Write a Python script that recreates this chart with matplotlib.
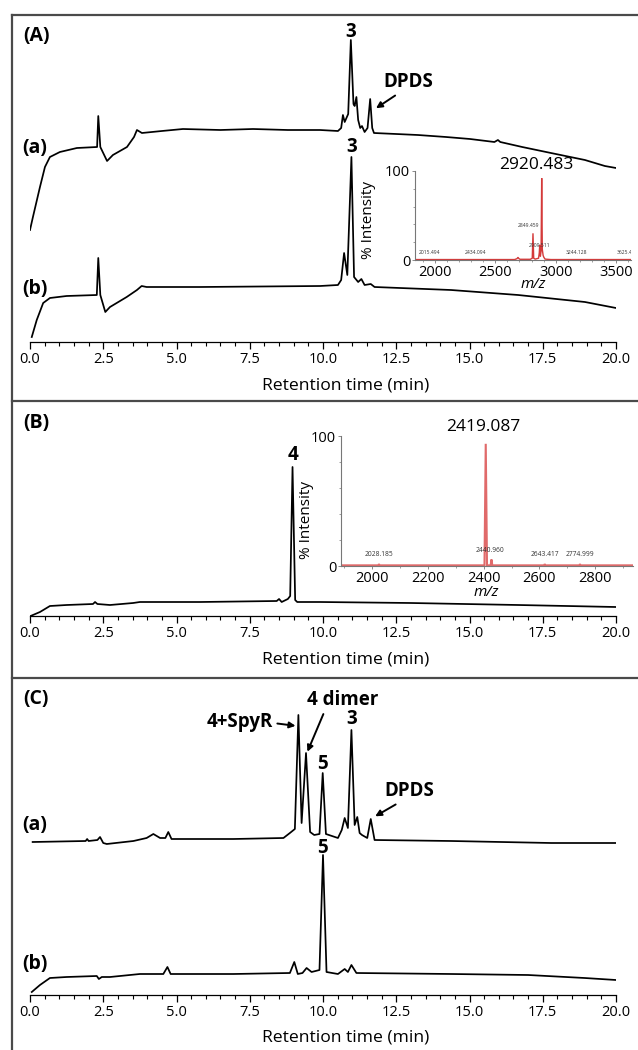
"""HPLC traces with MALDI insets, three stacked panels."""

import matplotlib
matplotlib.use("Agg")
import matplotlib.pyplot as plt
from matplotlib.lines import Line2D
from matplotlib.ticker import MultipleLocator, FormatStrFormatter

plt.rcParams["font.family"] = ["Open Sans", "DejaVu Sans"]

# ---- chromatogram data (time in min, signal in a.u.) ----
A_A_T = [0.0, 0.10, 0.34, 0.51, 0.68, 1.02, 1.60, 2.29, 2.33, 2.40, 2.63, 2.83, 3.31, 3.55, 3.65,
         3.82, 4.50, 5.22, 6.50, 7.61, 8.80, 9.90, 10.51, 10.62, 10.68, 10.74, 10.86, 10.95, 11.04,
         11.08, 11.14, 11.20, 11.27, 11.33, 11.42, 11.52, 11.61, 11.68, 11.74, 12.50, 13.24, 14.20,
         15.02, 15.85, 15.97, 16.05, 16.80, 17.78, 18.94, 19.62, 20.0]
A_A_S = [112, 125, 155, 175, 185, 190, 194, 195, 226, 195, 181, 187, 195, 205, 212,
         209, 211, 213, 212, 213, 212, 212, 211, 214, 227, 220, 228, 302, 238,
         236, 245, 222, 214, 216, 210, 214, 243, 214, 209, 208, 207, 205,
         203, 200, 202, 200, 195, 189, 182, 176, 174]

A_B_T = [0.06, 0.23, 0.45, 0.68, 1.25, 2.28, 2.33, 2.40, 2.57, 2.73, 3.30, 3.65, 3.81, 3.98, 5.80,
         9.90, 10.51, 10.62, 10.72, 10.83, 10.97, 11.06, 11.20, 11.31, 11.42, 11.63, 11.76, 14.37,
         16.66, 18.94, 20.0]
A_B_S = [5, 22, 39, 44, 46, 47, 84, 47, 30, 35, 45, 52, 56, 55, 55,
         56, 57, 62, 89, 67, 185, 65, 60, 63, 57, 58, 55, 52,
         47, 40, 34]

B_T = [0.02, 0.34, 0.68, 1.25, 2.15, 2.22, 2.30, 2.73, 3.52, 3.75, 5.80, 8.42, 8.50, 8.59, 8.80,
       8.88, 8.96, 9.05, 9.12, 9.90, 13.00, 16.66, 19.99]
B_S = [0, 4, 10, 11, 12, 14, 12, 11, 13, 14, 14, 15, 17, 14, 17,
       20, 149, 16, 14, 14, 13, 11, 9]

C_A_T = [0.09, 1.90, 1.95, 2.00, 2.30, 2.39, 2.50, 2.62, 3.53, 3.98, 4.21, 4.44, 4.62, 4.72, 4.83,
         6.94, 8.65, 8.87, 9.04, 9.16, 9.27, 9.42, 9.56, 9.70, 9.88, 9.99, 10.10, 10.51, 10.64,
         10.74, 10.85, 10.97, 11.08, 11.17, 11.25, 11.33, 11.51, 11.63, 11.76, 14.38, 17.79, 20.0]
C_A_S = [153, 154, 156, 154, 155, 158, 152, 151, 154, 157, 161, 157, 157, 163, 156,
         156, 157, 162, 166, 280, 172, 242, 163, 160, 161, 222, 161, 157, 165,
         177, 167, 265, 170, 178, 162, 160, 157, 176, 155, 154, 152, 152]

C_B_T = [0.06, 0.34, 0.68, 1.25, 2.28, 2.35, 2.45, 2.73, 3.75, 4.55, 4.69, 4.80, 6.94, 8.87, 9.02,
         9.14, 9.30, 9.44, 9.61, 9.88, 10.00, 10.12, 10.51, 10.74, 10.85, 10.97, 11.14, 14.38,
         17.0, 18.93, 20.0]
C_B_S = [3, 10, 17, 18, 19, 16, 18, 18, 21, 21, 28, 21, 21, 22, 33,
         21, 22, 27, 23, 25, 140, 23, 21, 26, 23, 30, 22, 21,
         20, 17, 15]

# ---- mass spectra (m/z, % intensity) ----
MZ_A = [1840, 2660, 2680, 2688, 2696, 2705, 2790, 2806, 2812, 2818, 2830, 2858, 2864, 2868, 2873,
        2879, 2884, 2889, 2896, 2902, 2912, 2960, 3620]
INT_A = [0.5, 0.5, 1.5, 3, 1.5, 0.8, 0.8, 2, 30, 2, 1, 2, 8, 17, 4,
         10, 92, 12, 5, 3, 1, 0.5, 0.5]
PEAKS_A = [("2015.494", 1959, 5.6), ("2434.094", 2341, 5.6), ("2849.459", 2777, 36),
           ("2909.511", 2868, 13.5), ("3244.128", 3170, 5.6), ("3625.4", 3570, 5.6)]

MZ_B = [1890, 2023, 2025, 2027, 2403, 2407.5, 2412, 2425, 2428, 2431, 2617, 2619, 2621, 2743,
        2745, 2747, 2935]
INT_B = [0.5, 0.5, 1.5, 0.5, 0.5, 94, 0.5, 0.5, 5, 0.5, 0.5, 1.5, 0.5, 0.5,
         1.5, 0.5, 0.5]
PEAKS_B = [("2028.185", 2025, 6), ("2440.960", 2422, 9), ("2643.417", 2619, 6),
           ("2774.999", 2745, 6)]

W, H = 638, 1050
X0, X1 = 30, 616
BOLD = dict(fontsize=13.5, fontweight="bold", ha="center", va="center")


def frame(left, top, right, bottom):
    return [left / W, 1 - bottom / H, (right - left) / W, (bottom - top) / H]


fig = plt.figure(figsize=(W / 100, H / 100), dpi=100)


def ftext(x, y, s, **kw):
    fig.text(x / W, 1 - y / H, s, **kw)


def fline(xs, ys):
    fig.add_artist(Line2D([x / W for x in xs], [1 - y / H for y in ys],
                          transform=fig.transFigure, color="#4a4a4a", lw=1.6))


def chrom_axis(top, bottom, label_y):
    ax = fig.add_axes(frame(X0, top, X1, bottom))
    ax.set_xlim(0, 20)
    ax.set_ylim(0, bottom - top)
    for side in ("top", "left", "right"):
        ax.spines[side].set_visible(False)
    ax.spines["bottom"].set_linewidth(0.9)
    ax.set_yticks([])
    ax.xaxis.set_major_locator(MultipleLocator(2.5))
    ax.xaxis.set_minor_locator(MultipleLocator(0.5))
    ax.xaxis.set_major_formatter(FormatStrFormatter("%.1f"))
    ax.tick_params(axis="x", which="major", length=5, width=0.9, labelsize=10.5, pad=2.5)
    ax.tick_params(axis="x", which="minor", length=3, width=0.8)
    ax.patch.set_alpha(0)
    ftext(346, label_y, "Retention time (min)", ha="center", va="center", fontsize=12.6)
    return ax


def inset(box, xlim, xmajor, mz, inten, peaks, color, lw):
    ax = fig.add_axes(frame(*box))
    ax.plot(mz, inten, color=color, lw=lw, solid_joinstyle="miter")
    ax.set_xlim(*xlim)
    ax.set_ylim(0, 100)
    for side in ("top", "right"):
        ax.spines[side].set_visible(False)
    for side in ("left", "bottom"):
        ax.spines[side].set_color("#777777")
        ax.spines[side].set_linewidth(0.8)
    ax.set_yticks([0, 100])
    ax.yaxis.set_minor_locator(MultipleLocator(20))
    ax.xaxis.set_major_locator(MultipleLocator(xmajor))
    ax.xaxis.set_minor_locator(MultipleLocator(100))
    ax.tick_params(which="major", length=2.5, width=0.6, color="#777777", labelsize=10.5, pad=1)
    ax.tick_params(which="minor", length=1.5, width=0.5, color="#777777")
    ax.patch.set_alpha(0)
    for text, x, y in peaks:
        ax.text(x, y, text, fontsize=3.6 if xmajor == 500 else 4.8, color="#333333",
                ha="center", va="bottom", clip_on=True)
    return ax


# ---------------- panel A ----------------
ax_a = chrom_axis(15, 342, 385)
ax_a.plot(A_A_T, A_A_S, color="black", lw=1.25)
ax_a.plot(A_B_T, A_B_S, color="black", lw=1.25)
ax_a.text(10.95, 310, "3", **BOLD)
ax_a.text(10.97, 195, "3", **BOLD)
arrow = dict(arrowstyle="-|>", color="black", lw=1.4, mutation_scale=9, shrinkA=1, shrinkB=1)
ax_a.annotate("DPDS", xy=(11.77, 233), xytext=(12.9, 260),
              arrowprops=dict(arrow, relpos=(0.35, 0)), **BOLD)

ins_a = inset((415, 171, 631, 260), (1837, 3622), 500, MZ_A, INT_A, PEAKS_A, "#d43a3a", 1.0)
ins_a.text(2838, 107, "2920.483", fontsize=12.5, ha="center", va="center", clip_on=False)
ftext(369, 220, "% Intensity", rotation=90, ha="center", va="center", fontsize=11)
ftext(533, 285, "m/z", style="italic", ha="center", va="center", fontsize=11)

ftext(36, 36, "(A)", **dict(BOLD, fontsize=14))
ftext(35, 148, "(a)", **dict(BOLD, fontsize=14))
ftext(35, 289, "(b)", **dict(BOLD, fontsize=14))

# ---------------- panel B ----------------
ax_b = chrom_axis(401, 616, 660)
ax_b.plot(B_T, B_S, color="black", lw=1.25)
ax_b.text(8.96, 161, "4", **BOLD)

ins_b = inset((341, 436, 633, 566), (1889, 2935), 200, MZ_B, INT_B, PEAKS_B, "#e06a6a", 1.5)
ins_b.text(2398, 107, "2419.087", fontsize=12.5, ha="center", va="center", clip_on=False)
ftext(306, 520, "% Intensity", rotation=90, ha="center", va="center", fontsize=11)
ftext(486, 593, "m/z", style="italic", ha="center", va="center", fontsize=11)

ftext(36, 423, "(B)", **dict(BOLD, fontsize=14))

# ---------------- panel C ----------------
ax_c = chrom_axis(678, 995, 1037)
ax_c.plot(C_A_T, C_A_S, color="black", lw=1.25)
ax_c.plot(C_B_T, C_B_S, color="black", lw=1.25)
ax_c.annotate("4+SpyR", xy=(9.11, 269), xytext=(8.30, 273),
              arrowprops=dict(arrow, relpos=(1, 0.45)), **dict(BOLD, ha="right"))
ax_c.annotate("4 dimer", xy=(9.45, 242), xytext=(10.68, 295),
              arrowprops=dict(arrow, relpos=(0.25, 0)), **BOLD)
ax_c.annotate("DPDS", xy=(11.74, 178), xytext=(12.94, 204),
              arrowprops=dict(arrow, relpos=(0.35, 0)), **BOLD)
ax_c.text(9.97, 231, "5", **BOLD)
ax_c.text(10.97, 276, "3", **BOLD)
ax_c.text(9.97, 147, "5", **BOLD)

ftext(36, 699, "(C)", **dict(BOLD, fontsize=14))
ftext(35, 825, "(a)", **dict(BOLD, fontsize=14))
ftext(35, 964, "(b)", **dict(BOLD, fontsize=14))

# panel frames
fline([12, 640], [15, 15])
fline([12, 12], [15, 1052])
fline([12, 640], [401, 401])
fline([12, 640], [678, 678])

fig.savefig("out.png", dpi=100)
